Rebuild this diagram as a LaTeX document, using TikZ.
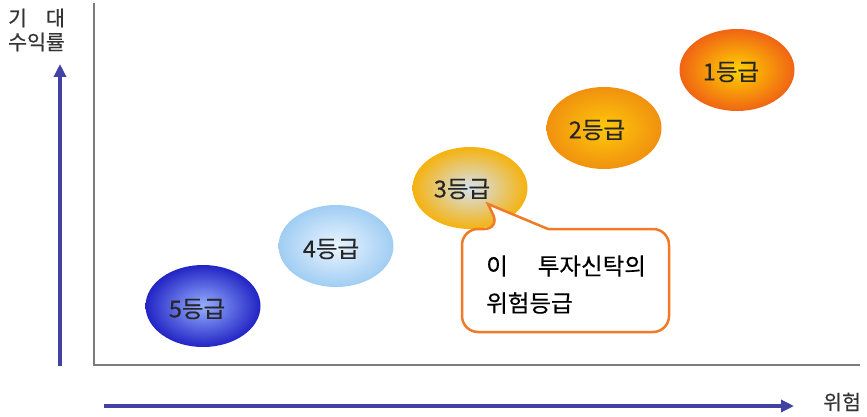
\documentclass[tikz,border=0pt]{standalone}
\usepackage{fontspec}
\setmainfont{Noto Sans CJK KR}[FakeBold=0.4]
\usetikzlibrary{shapes.geometric,arrows.meta}
\definecolor{axisblue}{HTML}{4242A6}
\definecolor{frame}{HTML}{7C7C7C}
\definecolor{callout}{HTML}{F07A26}
\tikzset{
  grade/.style={ellipse, minimum width=115pt, minimum height=82pt, inner sep=0pt, shading=radial},
  gtext/.style={inner sep=0pt, font=\fontsize{23.5}{26}\selectfont, text=black!85},
  axislabel/.style={inner sep=0pt, anchor=west, font=\fontsize{20.5}{24}\selectfont, text=black!80},
  bluearrow/.style={draw=axisblue, line width=3.5pt, -{Triangle[length=13pt,width=12pt]}},
  frameline/.style={draw=frame, line width=1.3pt},
  calloutbox/.style={draw=callout, line width=2.5pt, fill=white, rounded corners=16pt},
  ctext/.style={inner sep=0pt, anchor=west, font=\fontsize{23.5}{27}\selectfont, text=black}
}
\begin{document}
\begin{tikzpicture}[x=1pt,y=-1pt]
\useasboundingbox (0,0) rectangle (867,417);
% frame lines
\coordinate (ftop) at (94,3);
\coordinate (forig) at (94,365);
\coordinate (fright) at (860,365);
\draw[frameline] (ftop) -- (forig) -- (fright);
% blue axis arrows
\coordinate (vstart) at (60,366);
\coordinate (vend) at (60,64);
\coordinate (hstart) at (104,406);
\coordinate (hend) at (794,406);
\draw[bluearrow] (vstart) -- (vend);
\draw[bluearrow] (hstart) -- (hend);
% axis labels
\node[axislabel] (lab1) at (8,18) {기\hspace{19pt}대};
\node[axislabel] (lab2) at (8,42) {수익률};
\node[axislabel] (lab3) at (823,402) {위험};
% ellipses
\node[grade, inner color={rgb,255:red,150;green,175;blue,255}, outer color={rgb,255:red,34;green,36;blue,196}] (g5) at (203,306) {};
\node[grade, inner color={rgb,255:red,235;green,245;blue,255}, outer color={rgb,255:red,160;green,205;blue,243}] (g4) at (336,246) {};
\node[grade, inner color={rgb,255:red,212;green,226;blue,240}, outer color={rgb,255:red,245;green,178;blue,15}] (g3) at (470,188) {};
\node[grade, inner color={rgb,255:red,255;green,200;blue,10}, outer color={rgb,255:red,240;green,145;blue,15}] (g2) at (604,128) {};
\node[grade, inner color={rgb,255:red,255;green,210;blue,0}, outer color={rgb,255:red,240;green,100;blue,20}] (g1) at (737,70) {};
\node[gtext] (t5) at ([shift={(-6,3)}]g5.center) {5등급};
\node[gtext] (t4) at ([shift={(-5,3)}]g4.center) {4등급};
\node[gtext] (t3) at ([shift={(-8,1)}]g3.center) {3등급};
\node[gtext] (t2) at ([shift={(-7,2)}]g2.center) {2등급};
\node[gtext] (t1) at ([shift={(-6,2)}]g1.center) {1등급};
% callout
\coordinate (tip) at (488,204);
\draw[calloutbox] (462,229) -- (500,229) [sharp corners] -- (tip) -- (548,229) [rounded corners=16pt] -- (669,229) -- (669,332) -- (462,332) -- cycle;
\node[ctext] (c1) at (486,266) {이\hspace{30pt}투자신탁의};
\node[ctext] (c2) at (486,303) {위험등급};
\end{tikzpicture}
\end{document}
